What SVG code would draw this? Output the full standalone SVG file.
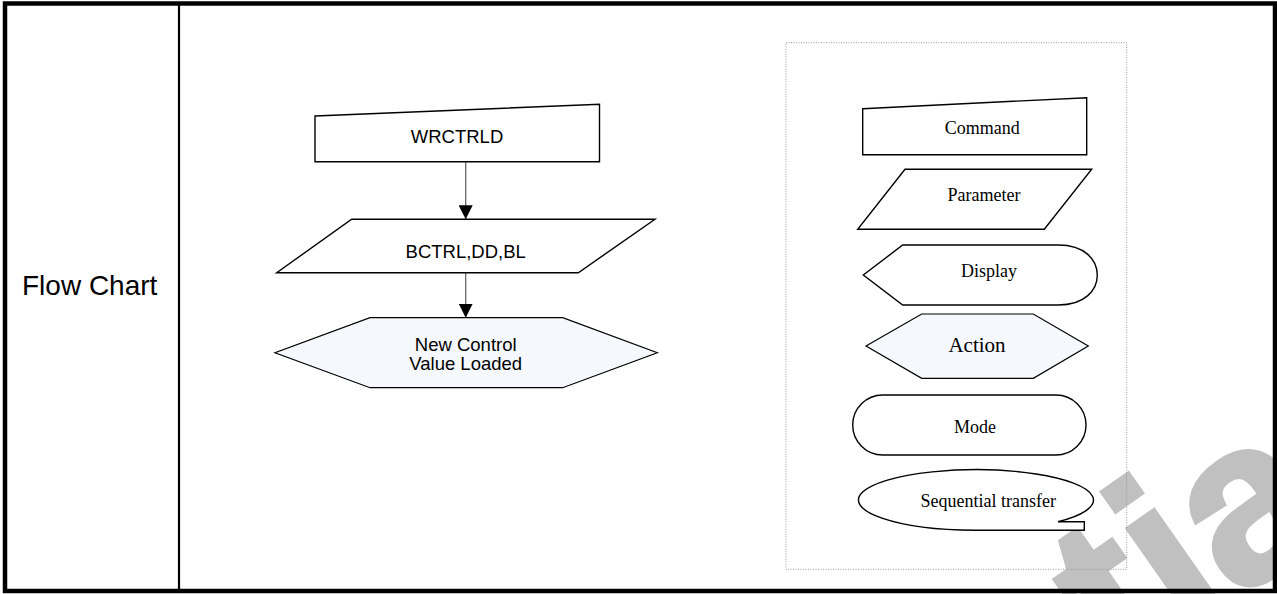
<svg xmlns="http://www.w3.org/2000/svg" width="1277" height="594" viewBox="0 0 1277 594">
<defs>
<style>
.sh{fill:#fff;stroke:#000;stroke-width:1.4}
.hx{fill:#f5f8fc;stroke:#000;stroke-width:1.2}
.t1{font-family:"Liberation Sans",Arial,sans-serif;font-size:18.5px;fill:#000;text-anchor:middle}
.t2{font-family:"Liberation Serif","Times New Roman",serif;font-size:18px;fill:#000;text-anchor:middle}
.cn{stroke:#666;stroke-width:1.3;fill:none}
</style>
<marker id="ah" viewBox="0 0 14 14" refX="14" refY="7" markerWidth="14" markerHeight="14" markerUnits="userSpaceOnUse" orient="auto">
<path d="M0,0 L14,7 L0,14 Z" fill="#000"/>
</marker>
</defs>
<rect x="0" y="0" width="1277" height="594" fill="#fff"/>
<g id="watermark">
<text transform="translate(1122,680) rotate(-35)" font-family="Liberation Sans,Arial,sans-serif" font-weight="bold" font-size="228" fill="#c0c0c0" stroke="#c0c0c0" stroke-width="5" stroke-linejoin="miter">tia</text>
</g>
<g id="table">
<rect x="5" y="3.5" width="1270" height="587.5" fill="none" stroke="#000" stroke-width="4.5"/>
<line x1="179" y1="4" x2="179" y2="591" stroke="#000" stroke-width="2.2"/>
</g>
<g id="label">
<text x="22" y="295" font-family="Liberation Sans,Arial,sans-serif" font-size="28px" fill="#000">Flow Chart</text>
</g>
<g id="connectors">
<line class="cn" x1="465.7" y1="162" x2="465.7" y2="219.3" marker-end="url(#ah)"/>
<line class="cn" x1="465.7" y1="272.7" x2="465.7" y2="317.7" marker-end="url(#ah)"/>
</g>
<g id="n-wrctrld">
<polygon class="sh" points="315,116 599.5,104.3 599.5,161.7 315,161.7"/>
<text class="t1" x="457" y="143">WRCTRLD</text>
</g>
<g id="n-bctrl">
<polygon class="sh" points="351.7,219.3 655,219.3 578.3,272.7 276.7,272.7"/>
<text class="t1" x="465.7" y="258.3">BCTRL,DD,BL</text>
</g>
<g id="n-loaded">
<polygon class="hx" points="370,317.7 562.7,317.7 657.3,352.7 562.7,387.7 370,387.7 275,352.7"/>
<text class="t1" x="465.7" y="350.7">New Control</text>
<text class="t1" x="465.7" y="370">Value Loaded</text>
</g>
<g id="legend">
<rect x="786" y="42.7" width="340.7" height="526.6" fill="none" stroke="#999" stroke-width="1" stroke-dasharray="1,1.5"/>
</g>
<g id="l-command">
<polygon class="sh" points="862.7,108.7 1086.7,97.7 1086.7,154.7 862.7,154.7"/>
<text class="t2" x="982.3" y="134.3">Command</text>
</g>
<g id="l-parameter">
<polygon class="sh" points="905,169.3 1091.7,169.3 1044.3,229.3 857.7,229.3"/>
<text class="t2" x="984" y="201">Parameter</text>
</g>
<g id="l-display">
<path class="sh" d="M863.3,275 L902.7,245 L1058.3,245 C1085,245 1097.3,260 1097.3,275 C1097.3,290 1085,305 1058.3,305 L902.7,305 Z"/>
<text class="t2" x="989" y="276.7">Display</text>
</g>
<g id="l-action">
<polygon class="hx" points="921.7,314 1033.3,314 1088.3,346 1033.3,378.3 921.7,378.3 866,346"/>
<text class="t2" x="977" y="352" style="font-size:21px">Action</text>
</g>
<g id="l-mode">
<rect class="sh" x="852.7" y="395" width="233.3" height="60" rx="30" ry="30"/>
<text class="t2" x="975" y="433.3">Mode</text>
</g>
<g id="l-sequential">
<path class="sh" d="M974.7,530.3 A117.5,30.3 0 1 1 1058,521.7 L1084.3,521.7 L1084.3,530.3 Z"/>
<text class="t2" x="988.3" y="506.7">Sequential transfer</text>
</g>
</svg>
